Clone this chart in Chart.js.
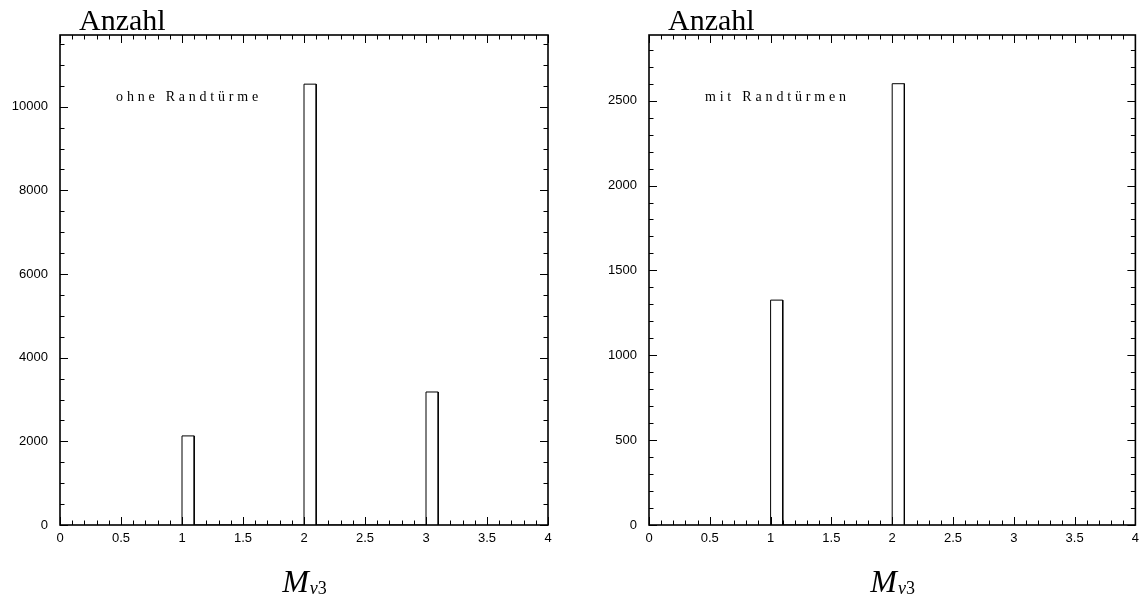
<!DOCTYPE html>
<html>
<head>
<meta charset="utf-8">
<script src="https://cdn.jsdelivr.net/npm/chart.js@4.4.1/dist/chart.umd.min.js"></script>
<style>
  html, body { margin: 0; padding: 0; background: #fff; }
  body { width: 1145px; height: 607px; position: relative; overflow: hidden; }
  canvas { position: absolute; top: 0; }
</style>
</head>
<body>
<canvas id="left" width="575" height="607" style="left:0"></canvas>
<canvas id="right" width="556" height="607" style="left:589px"></canvas>
<script>
'use strict';

// Histogram contents (bins are 0.1 wide)
const binWidth = 0.1;
const binLowLeft = [1, 2, 3];
const countsLeft = [2130, 10540, 3180];
const binLowRight = [1, 2];
const countsRight = [1325, 2600];

// Axis ticks
const xTicks = [0, 0.5, 1, 1.5, 2, 2.5, 3, 3.5, 4];
const yTicksLeft = [0, 2000, 4000, 6000, 8000, 10000];
const yTicksRight = [0, 500, 1000, 1500, 2000, 2500];

const TICK_FONT = { family: 'Liberation Sans', size: 13 };

function outline(lows, counts, w) {
    const pts = [];
    lows.forEach((lo, i) => {
        pts.push({ x: lo, y: 0 }, { x: lo, y: counts[i] },
                 { x: lo + w, y: counts[i] }, { x: lo + w, y: 0 });
    });
    return pts;
}

// frame, inward ticks (PAW style) and the text labels
const framePlugin = {
    id: 'frame',
    afterDraw(chart, args, opts) {
        const { ctx, chartArea: a, scales: { x, y } } = chart;
        ctx.save();
        ctx.strokeStyle = '#000';
        ctx.lineWidth = 1;
        ctx.beginPath();
        for (let i = 0; i <= 40; i++) {
            const px = Math.round(x.getPixelForValue(i / 10)) + 0.5;
            const len = i % 5 === 0 ? 8 : 4.5;
            ctx.moveTo(px, a.bottom); ctx.lineTo(px, a.bottom - len);
            ctx.moveTo(px, a.top); ctx.lineTo(px, a.top + len);
        }
        for (let v = 0; v <= opts.yMax; v += opts.yMinor) {
            const py = Math.round(y.getPixelForValue(v)) + 0.5;
            const len = v % opts.yMajor === 0 ? 8 : 4.5;
            ctx.moveTo(a.left, py); ctx.lineTo(a.left + len, py);
            ctx.moveTo(a.right, py); ctx.lineTo(a.right - len, py);
        }
        ctx.stroke();

        ctx.lineWidth = 1.6;
        ctx.strokeRect(a.left, a.top, a.right - a.left, a.bottom - a.top);

        ctx.fillStyle = '#000';
        ctx.textBaseline = 'alphabetic';
        ctx.textAlign = 'left';
        ctx.font = '30px "Liberation Serif"';
        ctx.fillText('Anzahl', a.left + 19, 30);

        // spaced small caption
        ctx.font = '14px "Liberation Serif"';
        const w0 = ctx.measureText(opts.caption).width;
        const gap = (opts.captionWidth - w0) / (opts.caption.length - 1);
        let cx = x.getPixelForValue(0.46);
        for (const ch of opts.caption) {
            ctx.fillText(ch, cx, 101);
            cx += ctx.measureText(ch).width + gap;
        }

        // x axis title M_v3
        const mid = (a.left + a.right) / 2;
        ctx.font = 'italic 32px "Liberation Serif"';
        const mW = ctx.measureText('M').width;
        ctx.font = 'italic 18px "Liberation Serif"';
        const vW = ctx.measureText('v').width;
        ctx.font = '18px "Liberation Serif"';
        const tW = ctx.measureText('3').width;
        let sx = mid - (mW + vW + tW) / 2;
        ctx.font = 'italic 32px "Liberation Serif"';
        ctx.fillText('M', sx, 592);
        sx += mW + 1;
        ctx.font = 'italic 18px "Liberation Serif"';
        ctx.fillText('v', sx, 594);
        sx += vW;
        ctx.font = '18px "Liberation Serif"';
        ctx.fillText('3', sx, 594);
        ctx.restore();
    }
};

function makeChart(id, lows, counts, yMax, yTicks, yMajor, yMinor, caption, captionWidth, rightPad) {
    return new Chart(document.getElementById(id), {
        type: 'line',
        data: {
            datasets: [{
                data: outline(lows, counts, binWidth),
                borderColor: '#000',
                borderWidth: 1,
                pointRadius: 0,
                tension: 0,
                fill: false,
            }],
        },
        options: {
            responsive: false,
            animation: false,
            devicePixelRatio: 1,
            layout: { padding: { top: 35, right: rightPad, left: 0, bottom: 0 } },
            plugins: {
                legend: { display: false },
                tooltip: { enabled: false },
                frame: { yMax, yMajor, yMinor, caption, captionWidth },
            },
            scales: {
                x: {
                    type: 'linear', min: 0, max: 4,
                    grid: { display: false, drawTicks: false },
                    border: { display: false },
                    afterBuildTicks: s => { s.ticks = xTicks.map(v => ({ value: v })); },
                    afterFit: s => { s.height = 82; },
                    ticks: {
                        color: '#000', font: TICK_FONT, padding: 6, maxRotation: 0,
                        autoSkip: false, callback: v => String(v),
                    },
                },
                y: {
                    type: 'linear', min: 0, max: yMax,
                    grid: { display: false, drawTicks: false },
                    border: { display: false },
                    afterBuildTicks: s => { s.ticks = yTicks.map(v => ({ value: v })); },
                    afterFit: s => { s.width = 60; },
                    ticks: {
                        color: '#000', font: TICK_FONT, padding: 12,
                        autoSkip: false, callback: v => String(v),
                    },
                },
            },
        },
        plugins: [framePlugin],
    });
}

makeChart('left', binLowLeft, countsLeft, 11715, yTicksLeft, 2000, 500,
          'ohne Randtürme', 142, 27);
makeChart('right', binLowRight, countsRight, 2887, yTicksRight, 500, 100,
          'mit Randtürmen', 141, 1);
</script>
</body>
</html>
